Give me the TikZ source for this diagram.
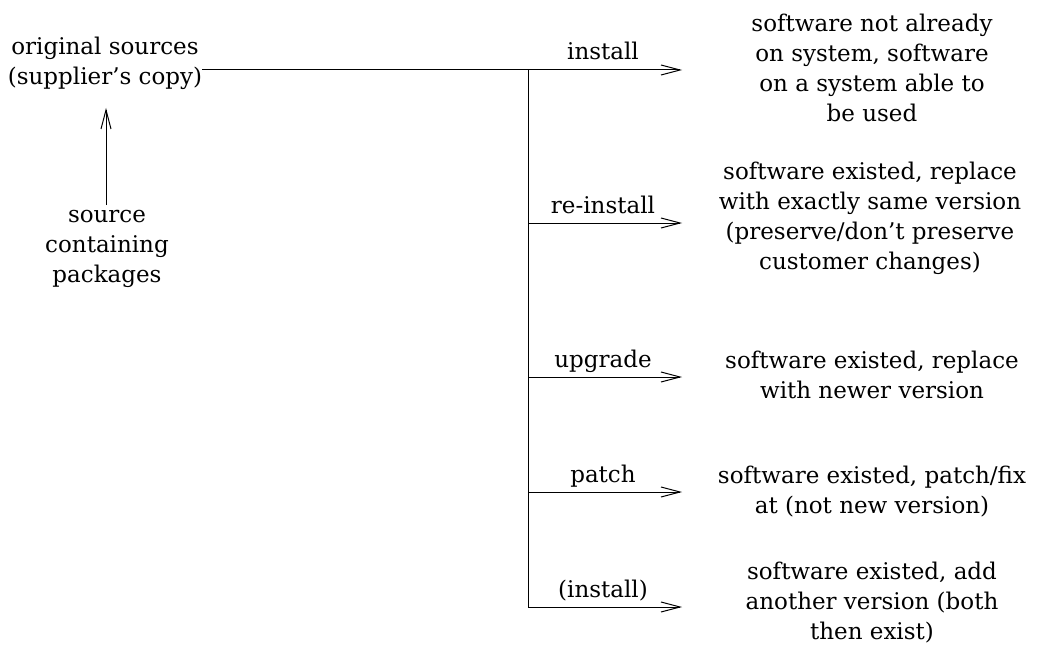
\documentclass[tikz,border=0pt]{standalone}
\usepackage{fontspec}
\setmainfont{DejaVu Serif}
\usetikzlibrary{arrows.meta}
\begin{document}
\begin{tikzpicture}[x=1pt,y=-1pt,
  txt/.style={align=center,inner sep=0pt,font=\fontsize{23}{30}\selectfont},
  lbl/.style={anchor=base,inner sep=0pt,font=\fontsize{23}{30}\selectfont},
  arr/.style={-{Straight Barb[length=19pt,width=10pt]},line width=1pt},
  ln/.style={line width=1pt}]
\useasboundingbox (0,0) rectangle (1039,650);
% left side
\node[txt] (orig) at (105,63) {original sources\\(supplier's copy)};
\node[txt] (src) at (107,249) {source\\containing\\packages};
\coordinate (srcTop) at (106,205);
\coordinate (origBot) at (106,108);
\draw[arr] (srcTop) -- (origBot);
% trunk
\coordinate (j1) at (528,70);
\coordinate (j2) at (528,223);
\coordinate (j3) at (528,377);
\coordinate (j4) at (528,492);
\coordinate (j5) at (528,607);
\coordinate (e1) at (682,70);
\coordinate (e2) at (682,223);
\coordinate (e3) at (682,377);
\coordinate (e4) at (682,492);
\coordinate (e5) at (682,607);
\draw[ln] (orig.east |- j1) -- (j1);
\draw[ln] (j1) -- (j5);
\draw[arr] (j1) -- (e1);
\draw[arr] (j2) -- (e2);
\draw[arr] (j3) -- (e3);
\draw[arr] (j4) -- (e4);
\draw[arr] (j5) -- (e5);
% labels
\node[lbl] (l1) at (603,60) {install};
\node[lbl] (l2) at (603,213) {re-install};
\node[lbl] (l3) at (603,367) {upgrade};
\node[lbl] (l4) at (603,482) {patch};
\node[lbl] (l5) at (603,597) {(install)};
% right texts
\node[txt] (t1) at (872,68) {software not already\\on system, software\\on a system able to\\be used};
\node[txt] (t2) at (870,218) {software existed, replace\\with exactly same version\\(preserve/don't preserve\\customer changes)};
\node[txt] (t3) at (872,375) {software existed, replace\\with newer version};
\node[txt] (t4) at (872,492) {software existed, patch/fix\\at (not new version)};
\node[txt] (t5) at (872,603) {software existed, add\\another version (both\\then exist)};
\end{tikzpicture}
\end{document}
